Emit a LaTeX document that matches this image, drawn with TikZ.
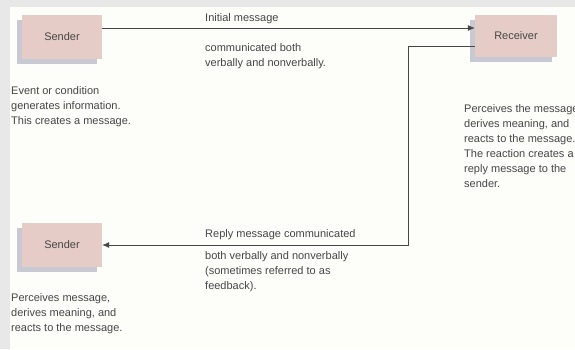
\documentclass[tikz,border=0pt]{standalone}
\usepackage{fontspec}
\setmainfont{Liberation Sans}
\usepackage{xcolor}
\usetikzlibrary{arrows.meta,positioning,calc,shadows}
\definecolor{OuterGray}{RGB}{232,232,232}
\definecolor{PanelWhite}{RGB}{253,253,250}
\definecolor{BoxPink}{RGB}{230,204,199}
\definecolor{ShadowGray}{RGB}{200,201,210}
\definecolor{InkGray}{RGB}{70,70,70}

\begin{document}
\begin{tikzpicture}[x=1pt, y=-1pt,
  msgbox/.style={fill=BoxPink, minimum width=80pt, minimum height=44pt, inner sep=0pt,
    drop shadow={shadow xshift=-5pt, shadow yshift=-5pt, fill=ShadowGray, opacity=1},
    font=\fontsize{11}{15}\selectfont, text=InkGray},
  note/.style={anchor=base west, inner sep=0pt, align=left, text=InkGray,
    font=\fontsize{11}{15}\selectfont},
  link/.style={draw=InkGray, line width=0.8pt}]
\useasboundingbox (0,0) rectangle (575,349);
\clip (0,0) rectangle (575,349);
\fill[OuterGray] (0,0) rectangle (575,349);
\fill[PanelWhite] (10,7) rectangle (575,349);

% boxes
\node[msgbox] (sendA) at (62,37) {Sender};
\node[msgbox, minimum width=82pt, minimum height=42pt] (recv) at (516,36) {Receiver};
\node[msgbox] (sendB) at (62,245) {Sender};

% texts (base = last line)
\node[note] (initlbl) at (205,21) {Initial message};
\node[note] (initsub) at (205,66) {communicated both\\verbally and nonverbally.};
\node[note] (evt) at (11,124) {Event or condition\\generates information.\\This creates a message.};
\node[note] (recvtxt) at (464,187) {Perceives the message,\\derives meaning, and\\reacts to the message.\\The reaction creates a\\reply message to the\\sender.};
\node[note] (replylbl) at (205,237) {Reply message communicated};
\node[note] (replysub) at (205,289) {both verbally and nonverbally\\(sometimes referred to as\\feedback).};
\node[note] (percv) at (11,331) {Perceives message,\\derives meaning, and\\reacts to the message.};

% connectors
\coordinate (turn) at (408,245);
\draw[link, -{Latex[length=7pt,width=6pt]}] ([yshift=9pt]sendA.east) -- ([yshift=8pt]recv.west);
\draw[link, -{Latex[length=7pt,width=6pt]}] ([yshift=-10pt]recv.west) -| (turn) -- (sendB.east);
\end{tikzpicture}
\end{document}
